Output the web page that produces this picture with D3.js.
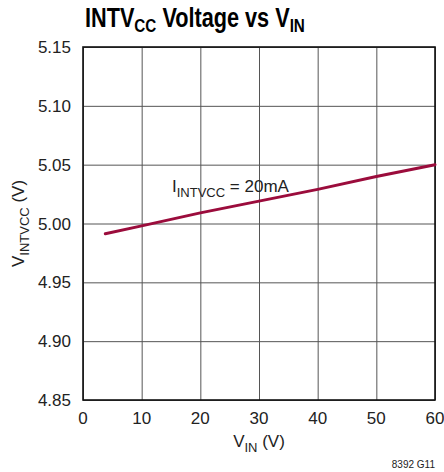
<!DOCTYPE html>
<html>
<head>
<meta charset="utf-8">
<script src="https://cdn.jsdelivr.net/npm/d3@7.9.0/dist/d3.min.js"></script>
<style>
  body { margin: 0; background: #fff; }
  svg text { font-family: "Liberation Sans Narrow", "Liberation Sans", Arial, sans-serif; fill: #222; }
</style>
</head>
<body>
<div id="chart"></div>
<script>
// data
const vin = [3.8, 10, 20, 30, 40, 50, 60];
const vIntvcc = [4.9913, 4.998, 5.009, 5.019, 5.029, 5.040, 5.050];
const xTicks = [0, 10, 20, 30, 40, 50, 60];
const yTicks = [4.85, 4.90, 4.95, 5.00, 5.05, 5.10, 5.15];

const width = 444;
const height = 472;
const margin = { top: 47, right: 9, bottom: 72, left: 83 };
const plot = {
    left: margin.left,
    right: width - margin.right,
    top: margin.top,
    bottom: height - margin.bottom
};

const svg = d3.select('#chart')
    .append('svg')
    .attr('width', width)
    .attr('height', height);

const x = d3.scaleLinear().domain([0, 60]).range([plot.left, plot.right]);
const y = d3.scaleLinear().domain([4.85, 5.15]).range([plot.bottom, plot.top]);

// grid
svg.append('g')
    .attr('transform', `translate(0, ${plot.bottom})`)
    .call(d3.axisBottom(x).tickValues(xTicks).tickSize(-(plot.bottom - plot.top)).tickFormat(''))
    .call(g => g.select('.domain').remove())
    .call(g => g.selectAll('.tick line').attr('stroke', '#555').attr('stroke-width', 1));

svg.append('g')
    .attr('transform', `translate(${plot.left}, 0)`)
    .call(d3.axisLeft(y).tickValues(yTicks).tickSize(-(plot.right - plot.left)).tickFormat(''))
    .call(g => g.select('.domain').remove())
    .call(g => g.selectAll('.tick line').attr('stroke', '#555').attr('stroke-width', 1));

// frame
svg.append('rect')
    .attr('x', plot.left)
    .attr('y', plot.top)
    .attr('width', plot.right - plot.left)
    .attr('height', plot.bottom - plot.top)
    .attr('fill', 'none')
    .attr('stroke', '#111')
    .attr('stroke-width', 1.6);

// tick labels
svg.append('g')
    .selectAll('text')
    .data(xTicks)
    .join('text')
    .attr('x', d => x(d))
    .attr('y', plot.bottom + 24)
    .attr('text-anchor', 'middle')
    .attr('font-size', 17)
    .text(d => d);

svg.append('g')
    .selectAll('text')
    .data(yTicks)
    .join('text')
    .attr('x', plot.left - 12)
    .attr('y', d => y(d) + 6)
    .attr('text-anchor', 'end')
    .attr('font-size', 17)
    .text(d => d.toFixed(2));

// the curve
svg.append('path')
    .datum(vin.map((v, i) => [v, vIntvcc[i]]))
    .attr('fill', 'none')
    .attr('stroke', '#9b0c3c')
    .attr('stroke-width', 3)
    .attr('stroke-linecap', 'round')
    .attr('d', d3.line().x(d => x(d[0])).y(d => y(d[1])));

// annotation
const ann = svg.append('text')
    .attr('x', 172)
    .attr('y', 192)
    .attr('font-size', 17);
ann.append('tspan').text('I');
ann.append('tspan').attr('font-size', 13).attr('dy', 5).text('INTVCC');
ann.append('tspan').attr('dy', -5).text(' = 20mA');

// title, squeezed to look condensed like the original
const titleG = svg.append('g');
const title = titleG.append('text')
    .attr('x', 0)
    .attr('y', 0)
    .attr('font-size', 27)
    .attr('font-weight', 'bold')
    .style('fill', '#000');
title.append('tspan').text('INTV');
title.append('tspan').attr('font-size', 19).attr('dy', 5).text('CC');
title.append('tspan').attr('dy', -5).text(' Voltage vs V');
title.append('tspan').attr('font-size', 19).attr('dy', 5).text('IN');
const tw = title.node().getBBox().width;
titleG.attr('transform', `translate(85, 27) scale(${220 / tw}, 1)`);

// axis titles
const xl = svg.append('text')
    .attr('x', x(30))
    .attr('y', 447)
    .attr('text-anchor', 'middle')
    .attr('font-size', 17);
xl.append('tspan').text('V');
xl.append('tspan').attr('font-size', 13).attr('dy', 5).text('IN');
xl.append('tspan').attr('dy', -5).text(' (V)');

const yl = svg.append('text')
    .attr('transform', `translate(24, ${y(5.0)}) rotate(-90)`)
    .attr('text-anchor', 'middle')
    .attr('font-size', 17);
yl.append('tspan').text('V');
yl.append('tspan').attr('font-size', 13).attr('dy', 5).text('INTVCC');
yl.append('tspan').attr('dy', -5).text(' (V)');

svg.append('text')
    .attr('x', 435)
    .attr('y', 468)
    .attr('text-anchor', 'end')
    .attr('font-size', 10)
    .text('8392 G11');
</script>
</body>
</html>
